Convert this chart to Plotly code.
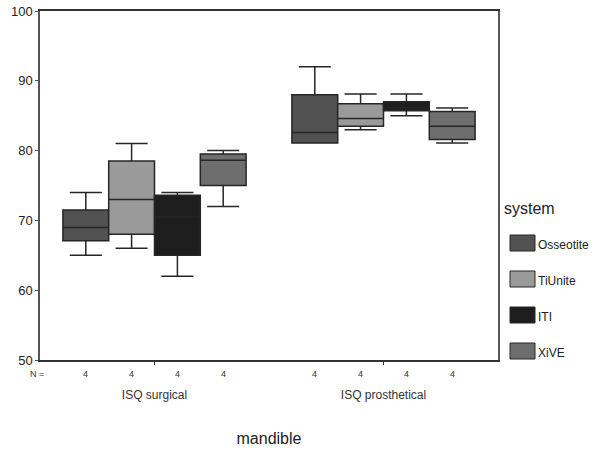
import plotly.graph_objects as go

categories = ["ISQ surgical", "ISQ prosthetical"]
systems = ["Osseotite", "TiUnite", "ITI", "XiVE"]
colors = ["#525252", "#9a9a9a", "#1e1e1e", "#6e6e6e"]
n_counts = [4, 4]

# box statistics per system: [surgical, prosthetical]
lower = {"Osseotite": [65.0, 81.1], "TiUnite": [66.0, 83.0], "ITI": [62.0, 85.0], "XiVE": [72.0, 81.1]}
q1 = {"Osseotite": [67.1, 81.1], "TiUnite": [68.0, 83.5], "ITI": [65.0, 85.7], "XiVE": [75.0, 81.6]}
median = {"Osseotite": [69.0, 82.6], "TiUnite": [73.0, 84.6], "ITI": [70.5, 86.1], "XiVE": [78.6, 83.5]}
q3 = {"Osseotite": [71.5, 88.0], "TiUnite": [78.5, 86.7], "ITI": [73.6, 87.0], "XiVE": [79.5, 85.6]}
upper = {"Osseotite": [74.0, 92.0], "TiUnite": [81.0, 88.1], "ITI": [74.0, 88.1], "XiVE": [80.0, 86.1]}

FONT = "Liberation Sans, Arial, sans-serif"

fig = go.Figure()
for s, c in zip(systems, colors):
    fig.add_trace(go.Box(
        name=s, x=categories,
        q1=q1[s], median=median[s], q3=q3[s],
        lowerfence=lower[s], upperfence=upper[s],
        fillcolor=c, line=dict(color="#262626", width=1.5),
        whiskerwidth=0.7, boxpoints=False, showlegend=False,
    ))

W, H = 597, 450
# plot area in page pixels: x 40..498, y 11..360
L, R, T, B = 40, 597 - 498, 11, 450 - 360
pw, ph = W - L - R, H - T - B

def px(x):  # page pixel -> paper
    return (x - L) / pw

def py(y):
    return (H - B - y) / ph

annotations = []
# N = row
annotations.append(dict(x=px(37), y=py(374), xref="paper", yref="paper", text="N =",
                        showarrow=False, font=dict(size=9, color="#333", family=FONT),
                        xanchor="center", yanchor="middle"))
offsets = [-0.3, -0.1, 0.1, 0.3]
for ci, n in enumerate(n_counts):
    for off in offsets:
        annotations.append(dict(x=ci + off, y=py(374), xref="x", yref="paper", text=str(n),
                                showarrow=False, font=dict(size=9, color="#333", family=FONT),
                                xanchor="center", yanchor="middle"))

# legend (drawn manually)
shapes = []
annotations.append(dict(x=px(502), y=py(208), xref="paper", yref="paper", text="system",
                        showarrow=False, xanchor="left", yanchor="middle",
                        font=dict(size=16, color="#222", family=FONT)))
legend_y = [243, 279, 315, 351]
for s, c, yy in zip(systems, colors, legend_y):
    shapes.append(dict(type="rect", xref="paper", yref="paper",
                       x0=px(510), x1=px(535), y0=py(yy - 8), y1=py(yy + 8),
                       fillcolor=c, line=dict(color="#262626", width=1)))
    annotations.append(dict(x=px(536), y=py(yy + 2), xref="paper", yref="paper", text=s,
                            showarrow=False, xanchor="left", yanchor="middle",
                            font=dict(size=12, color="#222", family=FONT)))

fig.update_layout(
    width=W, height=H,
    margin=dict(l=L, r=R, t=T, b=B),
    paper_bgcolor="white", plot_bgcolor="white",
    boxmode="group", boxgap=0.2, boxgroupgap=0.0,
    font=dict(family=FONT, color="#222"),
    annotations=annotations, shapes=shapes,
    xaxis=dict(
        type="category", range=[-0.5, 1.5], automargin=False,
        showline=True, linecolor="#333", linewidth=1.5, mirror=True,
        ticks="outside", ticklen=3, tickcolor="#333",
        ticklabelstandoff=20, tickfont=dict(size=12, color="#333"),
        showgrid=False,
        title=dict(text="mandible", font=dict(size=16, color="#222"), standoff=32),
    ),
    yaxis=dict(
        range=[50, 100], tickvals=[50, 60, 70, 80, 90, 100], automargin=False,
        ticklabeloverflow="allow",
        showline=True, linecolor="#555", linewidth=1.5, mirror=True,
        ticks="outside", ticklen=3, tickcolor="#555",
        tickfont=dict(size=13, color="#222"),
        showgrid=False, zeroline=False,
    ),
)

fig.write_html("out.html", config={"displayModeBar": False},
               post_script="document.body.style.margin='0';")
